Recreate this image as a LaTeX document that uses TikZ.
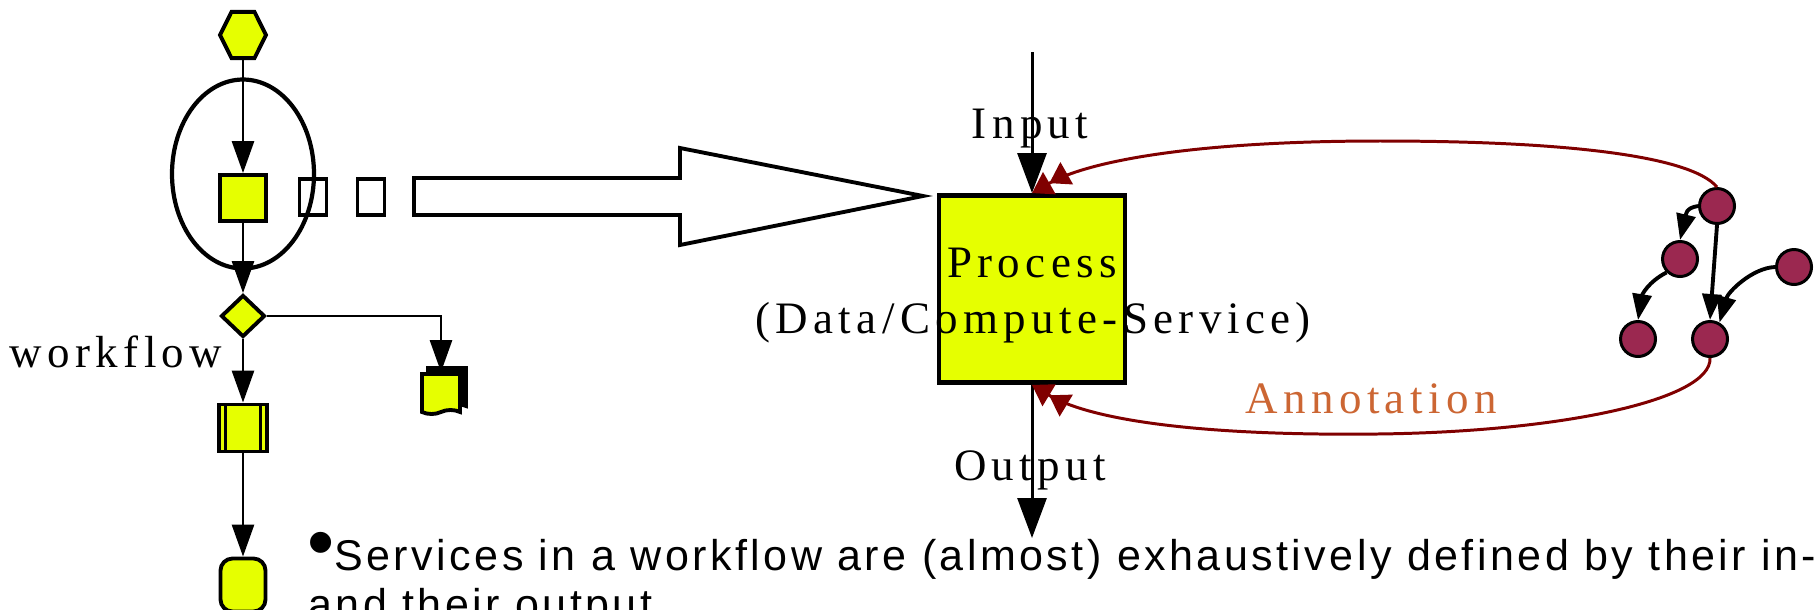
\documentclass[tikz,border=0pt]{standalone}
\usepackage{fontspec}
\setmainfont{Liberation Serif}
\newfontfamily\lblfont[LetterSpace=12]{Liberation Serif}
\newfontfamily\notefont[LetterSpace=8]{Liberation Sans}
\usetikzlibrary{arrows.meta,shapes.geometric,shapes.symbols,shadows}
\definecolor{wfyellow}{RGB}{230,255,0}
\definecolor{annofill}{RGB}{155,40,80}
\definecolor{annored}{RGB}{128,0,0}
\definecolor{annotext}{RGB}{204,102,51}

\begin{document}
\begin{tikzpicture}[x=0.02cm,y=-0.02cm]
\tikzstyle{every node}=[inner sep=0pt]
\tikzstyle{wfbox}=[draw,fill=wfyellow,line width=2.2pt]
\tikzstyle{wfstart}=[wfbox,regular polygon,regular polygon sides=6,minimum size=0.92cm,yscale=1.16]
\tikzstyle{wftask}=[wfbox,minimum size=0.92cm]
\tikzstyle{wfdecide}=[wfbox,diamond,minimum width=0.88cm,minimum height=0.84cm]
\tikzstyle{wfsub}=[wfbox,minimum width=0.96cm,minimum height=0.94cm,
  path picture={\draw[line width=1.2pt] ([xshift=0.13cm]path picture bounding box.north west) -- ([xshift=0.13cm]path picture bounding box.south west);
  \draw[line width=1.2pt] ([xshift=-0.13cm]path picture bounding box.north east) -- ([xshift=-0.13cm]path picture bounding box.south east);}]
\tikzstyle{wfend}=[wfbox,rounded corners=0.24cm,minimum width=0.9cm,minimum height=1.06cm]
\tikzstyle{wfdoc}=[wfbox,tape,tape bend top=none,tape bend height=0.08cm,minimum width=0.76cm,minimum height=0.8cm,
  copy shadow={shadow xshift=0.12cm,shadow yshift=0.12cm,fill=black,line width=2.2pt}]
\tikzstyle{emptybox}=[draw,line width=2.2pt,minimum width=0.54cm,minimum height=0.72cm]
\tikzstyle{procbox}=[draw,fill=wfyellow,line width=2.8pt,minimum width=3.72cm,minimum height=3.74cm]
\tikzstyle{anno}=[circle,draw,fill=annofill,line width=1.7pt,minimum size=0.7cm]
\tikzstyle{flow}=[line width=1.6pt,-{Triangle[length=0.64cm,width=0.44cm]}]
\tikzstyle{ioarrow}=[line width=1.7pt,-{Triangle[length=0.8cm,width=0.58cm]}]
\tikzstyle{annoedge}=[line width=2.2pt,-{Triangle[length=0.52cm,width=0.38cm]}]
\tikzstyle{annolink}=[annored,line width=1.7pt,-{Triangle[length=0.4cm,width=0.5cm]Triangle[length=0.4cm,width=0.5cm]}]
\tikzstyle{lbl}=[font=\lblfont\fontsize{25.6}{30}\selectfont]
\tikzstyle{note}=[font=\notefont\fontsize{24.5}{28}\selectfont]
\useasboundingbox (0,0) rectangle (1814,609);
\clip (0,0) rectangle (1814,609);
\draw (243,35) node (start) [wfstart] {};
\draw (243,174) node (loop) [draw,ellipse,line width=2.4pt,minimum width=2.84cm,minimum height=3.78cm] {};
\draw (243,198) node (task) [wftask] {};
\draw (313,197) node (gap1) [emptybox] {};
\draw (371,197) node (gap2) [emptybox] {};
\draw (243,316) node (choice) [wfdecide] {};
\draw (441,392) node (doc) [wfdoc] {};
\draw (243,428) node (sub) [wfsub] {};
\draw (243,585) node (stop) [wfend] {};
\draw[flow] (start.south) -- (task.north);
\draw[flow] (task.south) -- (choice.north);
\draw[flow] (choice.south) -- (sub.north);
\draw[flow] (sub.south) -- (stop.north);
\draw[flow] (choice.east) -| (doc.north);
\draw (116,367) node (wflbl) [lbl,anchor=base] {workflow};
\draw[line width=2.2pt,line join=miter] (414,178) -- (680,178) -- (680,148) -- (923,196) -- (680,245) -- (680,215) -- (414,215) -- cycle;
\draw (1032,289) node (proc) [procbox] {};
\draw (1032,52) coordinate (inp);
\draw (1032,538) coordinate (outp);
\draw[ioarrow] (inp) -- (proc.north);
\draw[ioarrow] (proc.south) -- (outp);
\draw (1030,138) node (inlbl) [lbl,anchor=base] {Input};
\draw (1032,277) node (proclbl) [lbl,anchor=base] {Process};
\draw (1033,333) node (svclbl) [lbl,anchor=base] {(Data/Compute-Service)};
\draw (1030,480) node (outlbl) [lbl,anchor=base] {Output};
\draw (1371,413) node (annolbl) [lbl,anchor=base,text=annotext] {Annotation};
\draw (1717,206) node (ann1) [anno] {};
\draw (1680,259) node (ann2) [anno] {};
\draw (1794,267) node (ann3) [anno] {};
\draw (1638,339) node (ann4) [anno] {};
\draw (1710,339) node (ann5) [anno] {};
\draw[annoedge] (ann1.west) .. controls (1685,208) and (1686,215) .. (ann2.north);
\draw[annoedge] (ann2.225) .. controls (1648,282) and (1642,295) .. (ann4.north);
\draw[annoedge] (ann1.south) -- (ann5.north);
\draw[annoedge] (ann3.west) .. controls (1752,268) and (1728,292) .. (ann5.60);
\draw[annolink] (ann1.north) .. controls (1690,155) and (1560,141) .. (1380,141) .. controls (1200,141) and (1090,160) .. (proc.north);
\draw[annolink] (ann5.south) .. controls (1712,400) and (1560,432) .. (1377,434) .. controls (1200,436) and (1090,420) .. (proc.south);
\draw (307,570) node (note1) [note,anchor=base west] {\raisebox{0.04cm}{\scalebox{1.8}{•}}Services in a workflow are (almost) exhaustively defined by their in-};
\draw (308,619) node (note2) [note,anchor=base west] {and their output};
\end{tikzpicture}
\end{document}
